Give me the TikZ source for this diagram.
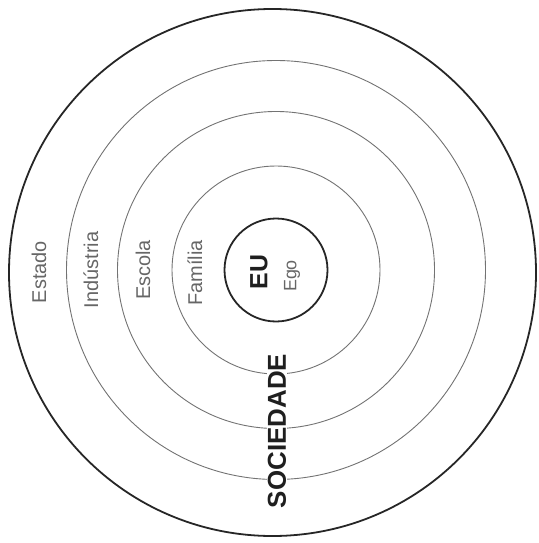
\documentclass[tikz,border=0pt]{standalone}
\usepackage{fontspec}
\setmainfont{Liberation Sans}
\begin{document}
\begin{tikzpicture}[x=1bp,y=-1bp,
  ring/.style={draw=black!55,line width=0.9bp},
  boldring/.style={draw=black!85,line width=1.8bp},
  lbl/.style={rotate=90,text=black!60,font=\fontsize{20}{20}\selectfont,inner sep=0pt},
  bigl/.style={rotate=90,text=black!88,font=\bfseries\fontsize{26}{26}\selectfont}]
\useasboundingbox (0,0) rectangle (539,543);
\coordinate (c) at (276,270);
\draw[boldring] (272.5,272.5) circle[radius=263.5];
\draw[ring] (c) circle[radius=209.5];
\draw[ring] (c) circle[radius=158.5];
\draw[ring] (c) circle[radius=104];
\draw[boldring] (c) circle[radius=51.5];
\node[lbl] (estado) at (39,272) {Estado};
\node[lbl] (industria) at (91,270) {Indústria};
\node[lbl] (escola) at (143,270) {Escola};
\node[lbl] (familia) at (195,273) {Família};
\node[rotate=90,text=black!88,font=\bfseries\fontsize{25}{25}\selectfont,inner sep=0pt] (eu) at (259,272) {EU};
\node[lbl,font=\fontsize{18}{18}\selectfont] (ego) at (292,276) {Ego};
\node[bigl,fill=white,inner xsep=5bp,inner ysep=1bp] (soc) at (277,431) {SOCIEDADE};
\end{tikzpicture}
\end{document}
